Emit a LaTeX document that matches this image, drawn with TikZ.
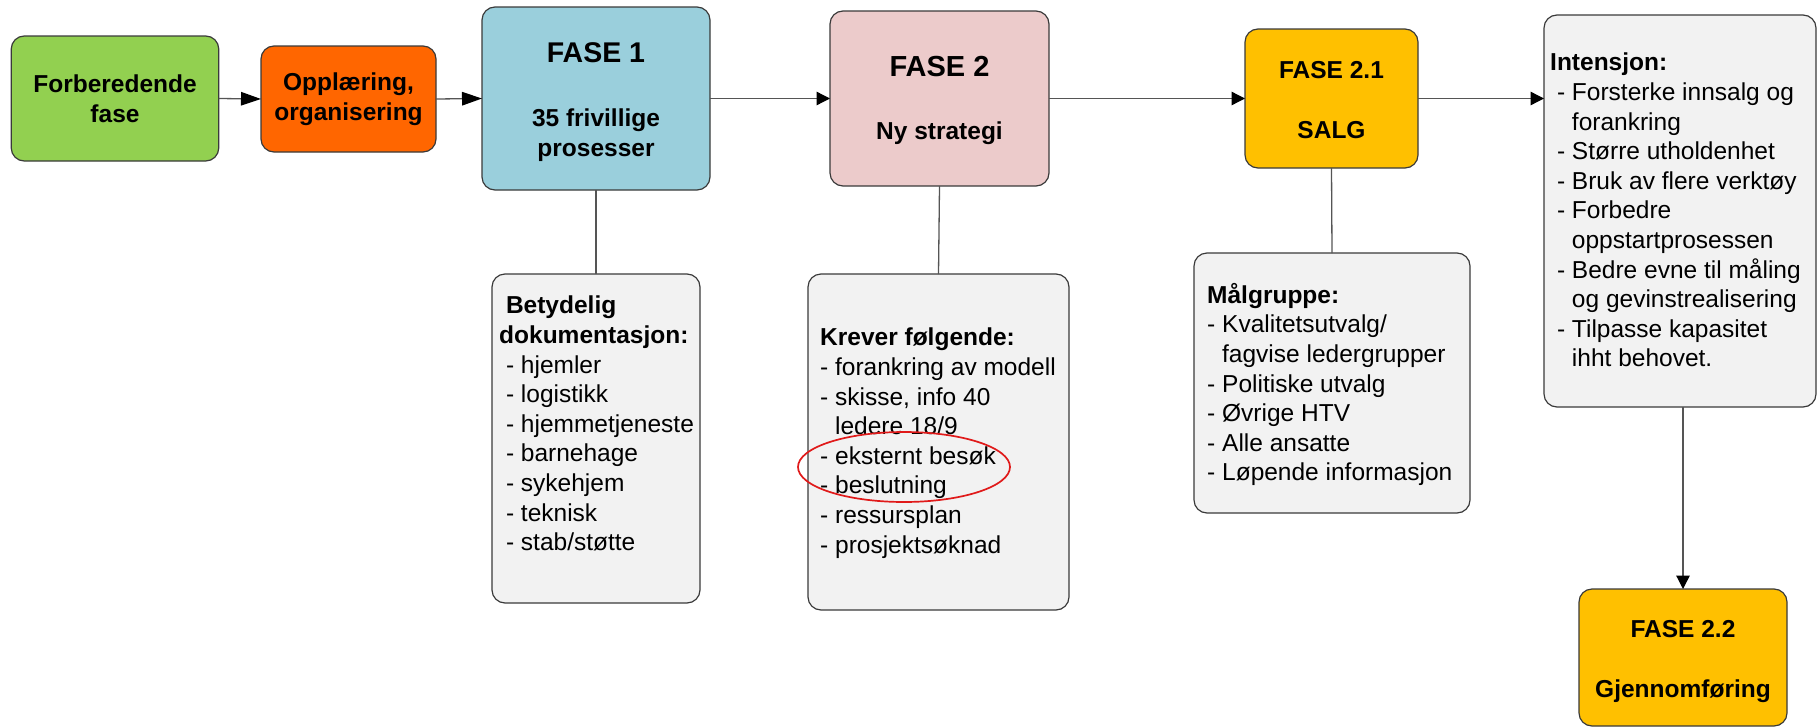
\documentclass[tikz,border=0pt]{standalone}
\usepackage{fontspec}
\setmainfont{Liberation Sans}
\usetikzlibrary{arrows.meta}
\definecolor{cgreen}{HTML}{92D050}
\definecolor{corange}{HTML}{FF6600}
\definecolor{cblue}{HTML}{9ACFDC}
\definecolor{cpink}{HTML}{ECCBCB}
\definecolor{cyellow}{HTML}{FFC000}
\definecolor{cgrey}{HTML}{F2F2F2}
\definecolor{cborder}{HTML}{3A3A3A}
\definecolor{cline}{HTML}{555555}
\definecolor{cred}{HTML}{E01A1A}
\newcommand{\bodyr}{\fontsize{24.5}{29.6}\selectfont}
\newcommand{\bodyb}{\fontsize{24.5}{30}\selectfont\bfseries}
\newcommand{\bigb}{\fontsize{28.5}{30}\selectfont\bfseries}
\newcommand{\mylead}{\hspace*{0.278em}}
\newcommand{\myind}{\hphantom{- }}
\begin{document}
\begin{tikzpicture}[x=1pt,y=-1pt,
  box/.style={draw=cborder, line width=1.2pt, rounded corners=13pt, inner sep=0pt, outer sep=0pt},
  ctext/.style={align=center, font=\bodyb},
  conn/.style={draw=cline, line width=1.3pt},
  arr/.style={conn, -{Triangle[length=13.5pt,width=13.5pt,color=black]}},
  longarr/.style={conn, -{Triangle[length=20pt,width=13.5pt,color=black]}},
  txt/.style={anchor=north west, align=left, inner sep=0pt, font=\bodyr}]
\useasboundingbox (0,0) rectangle (1818,728);

% colored phase boxes
\node[box, ctext, fill=cgreen, minimum width=207.5pt, minimum height=125pt] (forb) at (115,98.5) {Forberedende\\fase};
\node[box, ctext, fill=corange, minimum width=175pt, minimum height=106pt] (oppl) at (348.5,99) {Opplæring,\\organisering};
\node[box, ctext, fill=cblue, minimum width=228pt, minimum height=183pt] (f1) at (596,98.5) {\rule{0pt}{26.4pt}{\bigb FASE 1}\\[34pt]35 frivillige\\prosesser};
\node[box, ctext, fill=cpink, minimum width=219pt, minimum height=175pt] (f2) at (939.5,98.5) {\rule{0pt}{24.8pt}{\fontsize{29}{30}\selectfont\bfseries FASE 2}\\[33pt]Ny strategi};
\node[box, ctext, fill=cyellow, minimum width=173pt, minimum height=139pt] (f21) at (1331.5,98.5) {\rule{0pt}{19.5pt}FASE 2.1\\[30pt]SALG};
\node[box, ctext, fill=cyellow, minimum width=208pt, minimum height=137pt] (f22) at (1683,657.5) {\rule{0pt}{25.5pt}FASE 2.2\\[30pt]Gjennomføring};

% grey text boxes
\node[box, fill=cgrey, minimum width=272pt, minimum height=392pt] (int) at (1680,211) {};
\node[box, fill=cgrey, minimum width=208pt, minimum height=329pt] (bet) at (596,438.5) {};
\node[box, fill=cgrey, minimum width=261pt, minimum height=336pt] (krev) at (938.5,442) {};
\node[box, fill=cgrey, minimum width=276pt, minimum height=260pt] (maal) at (1332,383) {};

% texts of the grey boxes
\node[txt] (bettxt) at (499,296) {\mylead\textbf{Betydelig}\\\textbf{dokumentasjon:}\\\mylead- hjemler\\\mylead- logistikk\\\mylead- hjemmetjeneste\\\mylead- barnehage\\\mylead- sykehjem\\\mylead- teknisk\\\mylead- stab/støtte};
\node[txt] (krevtxt) at (820,328) {\textbf{Krever følgende:}\\- forankring av modell\\- skisse, info 40\\\myind ledere 18/9\\- eksternt besøk\\- beslutning\\- ressursplan\\- prosjektsøknad};
\node[txt] (maaltxt) at (1207,283) {\textbf{Målgruppe:}\\- Kvalitetsutvalg/\\\myind fagvise ledergrupper\\- Politiske utvalg\\- Øvrige HTV\\- Alle ansatte\\- Løpende informasjon};
\node[txt] (inttxt) at (1550,53) {\textbf{Intensjon:}\\\mylead- Forsterke innsalg og\\\mylead\myind forankring\\\mylead- Større utholdenhet\\\mylead- Bruk av flere verktøy\\\mylead- Forbedre\\\mylead\myind oppstartprosessen\\\mylead- Bedre evne til måling\\\mylead\myind og gevinstrealisering\\\mylead- Tilpasse kapasitet\\\mylead\myind ihht behovet.};

% connectors
\draw[longarr] (forb.east) -- (oppl.west);
\draw[longarr] (oppl.east) -- (f1.west);
\draw[arr] (f1.east) -- (f2.west);
\draw[arr] (f2.east) -- (f21.west);
\draw[arr] (f21.east) -- (f21.east -| int.west);
\draw[conn] (f1.south) -- (bet.north);
\draw[conn] (f2.south) -- (krev.north);
\draw[conn] (f21.south) -- (maal.north);
\draw[arr] (f22.north |- int.south) -- (f22.north);

% red highlight ellipse
\draw[cred, line width=1.7pt] (904,467) ellipse [x radius=106, y radius=35];
\end{tikzpicture}
\end{document}
